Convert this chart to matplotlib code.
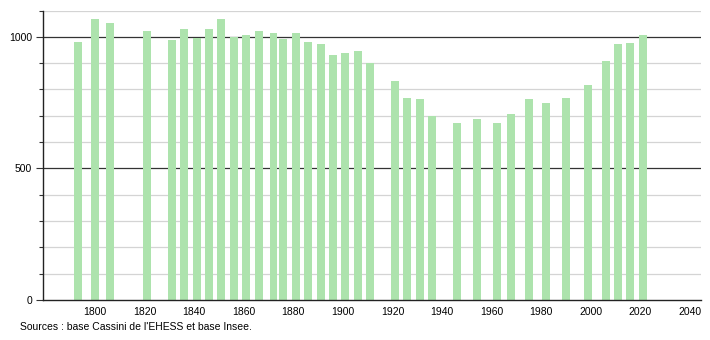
import matplotlib
matplotlib.use("Agg")
import matplotlib.pyplot as plt
from matplotlib.ticker import MultipleLocator

plt.rcParams['font.family'] = ['Liberation Sans', 'DejaVu Sans']

years = [1793, 1800, 1806, 1821, 1831, 1836, 1841, 1846, 1851, 1856, 1861, 1866,
         1872, 1876, 1881, 1886, 1891, 1896, 1901, 1906, 1911, 1921, 1926, 1931,
         1936, 1946, 1954, 1962, 1968, 1975, 1982, 1990, 1999, 2006, 2011, 2016, 2021]
population = [982, 1069, 1053, 1023, 987, 1029, 997, 1031, 1069, 1001, 1008, 1021,
              1013, 993, 1013, 979, 971, 931, 940, 945, 901, 834, 768, 762,
              698, 673, 686, 673, 707, 762, 747, 768, 818, 907, 974, 977, 1008]
x_ticks = [1800, 1820, 1840, 1860, 1880, 1900, 1920, 1940, 1960, 1980, 2000, 2020, 2040]
y_ticks = [0, 500, 1000]
source = "Sources : base Cassini de l'EHESS et base Insee."

fig = plt.figure(figsize=(7.1, 3.4), dpi=100)
ax = fig.add_axes([43/710, 1 - 300/340, (701-43)/710, (300-10.5)/340])

ax.set_xlim(1779, 2044.5)
ax.set_ylim(0, 1100)

for v in range(100, 1101, 100):
    if v % 500 == 0:
        ax.axhline(v, color='#333333', lw=0.9, zorder=1)
    else:
        ax.axhline(v, color='#d4d4d4', lw=0.9, zorder=1)

ax.bar(years, population, width=3.2, color='#ade3ad', zorder=2, linewidth=0)

ax.set_xticks(x_ticks)
ax.set_yticks(y_ticks)
ax.yaxis.set_minor_locator(MultipleLocator(100))
ax.tick_params(axis='x', length=0, labelsize=7.5, pad=5)
ax.tick_params(axis='y', which='major', length=5, width=0.8, labelsize=7.5, pad=3, color='#333333')
ax.tick_params(axis='y', which='minor', length=3, width=0.8, color='#333333')
for s in ['top', 'right']:
    ax.spines[s].set_visible(False)
for s in ['left', 'bottom']:
    ax.spines[s].set_color('#222222')
    ax.spines[s].set_linewidth(1.0)

fig.text(20/710, 1 - 327/340, source, fontsize=7.5, va='center', ha='left')

fig.savefig('out.png', dpi=100)
